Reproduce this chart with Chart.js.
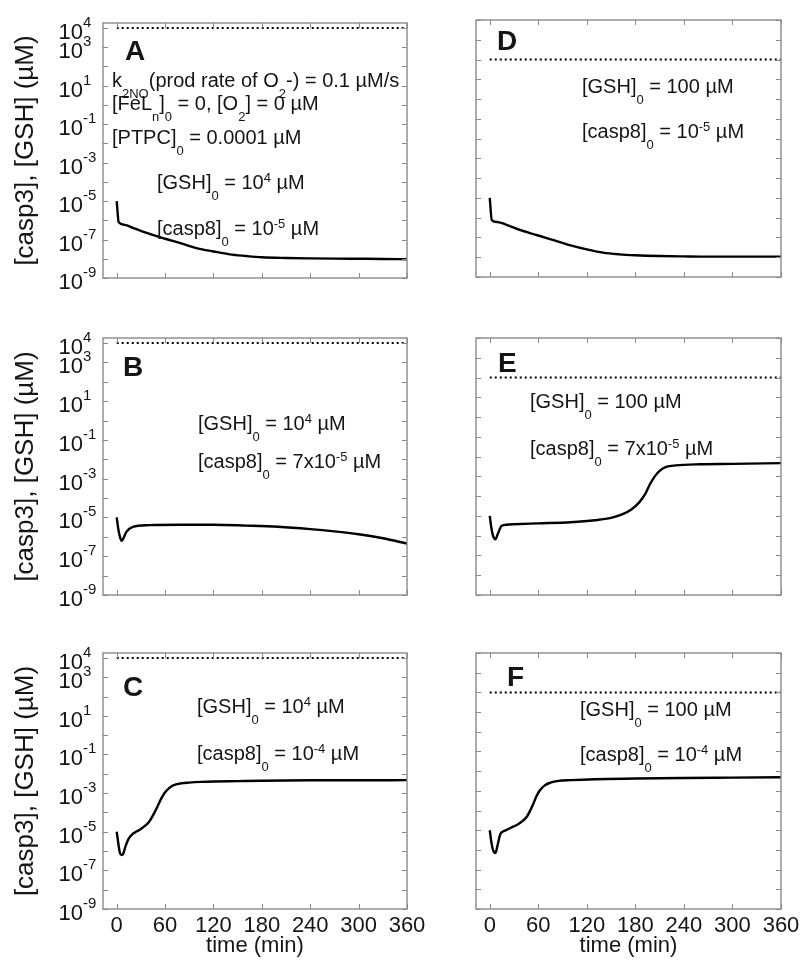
<!DOCTYPE html>
<html>
<head>
<meta charset="utf-8">
<script src="https://cdn.jsdelivr.net/npm/chart.js@4.4.1/dist/chart.umd.min.js"></script>
<style>
  body { margin: 0; background: #fff; }
  #wrap { position: relative; width: 800px; height: 961px; }
  #wrap canvas { position: absolute; }
</style>
</head>
<body>
<div id="wrap"></div>
<script>
// ---- data ----
const xTickValues = [0, 60, 120, 180, 240, 300, 360];
const yDecades = [-9, -8, -7, -6, -5, -4, -3, -2, -1, 0, 1, 2, 3, 4];
const yLabelExps = [4, 3, 1, -1, -3, -5, -7, -9];

const gshTime = [0, 360];
const gshLeft = [1e4, 1e4];   // [GSH]0 = 10^4 uM
const gshRight = [100, 100];  // [GSH]0 = 100 uM

const timeA = [0, 2.5, 10, 20, 40, 60, 80, 100, 120, 140, 160, 180, 210, 240, 270, 300, 330, 360];
const casp3A = [1.0e-5, 7.8e-7, 5.8e-7, 4.0e-7, 2.0e-7, 1.1e-7, 6.3e-8, 3.5e-8, 2.4e-8, 1.7e-8, 1.4e-8, 1.2e-8, 1.1e-8, 1.05e-8, 1.02e-8, 1.0e-8, 9.8e-9, 9.5e-9];

const timeD = [0, 2.5, 10, 20, 40, 60, 80, 100, 120, 140, 160, 180, 210, 240, 270, 300, 330, 360];
const casp3D = [1.0e-5, 7.6e-7, 6.0e-7, 4.5e-7, 2.2e-7, 1.26e-7, 7.1e-8, 4.0e-8, 2.5e-8, 1.7e-8, 1.4e-8, 1.26e-8, 1.15e-8, 1.1e-8, 1.07e-8, 1.07e-8, 1.07e-8, 1.07e-8];

const timeB = [0, 2, 4, 6, 8, 12, 20, 40, 80, 120, 160, 200, 240, 270, 300, 330, 360];
const casp3B = [1.0e-5, 2.5e-6, 1.0e-6, 6.3e-7, 7.9e-7, 1.8e-6, 3.3e-6, 4.0e-6, 4.2e-6, 4.2e-6, 3.8e-6, 3.3e-6, 2.5e-6, 1.9e-6, 1.35e-6, 8.5e-7, 4.5e-7];

const timeE = [0, 2, 4, 7, 10, 15, 30, 60, 100, 130, 150, 165, 175, 185, 192, 198, 204, 210, 218, 230, 260, 300, 360];
const casp3E = [1.0e-5, 2.5e-6, 1.0e-6, 6.6e-7, 1.26e-6, 3.2e-6, 3.8e-6, 4.2e-6, 4.8e-6, 6.0e-6, 7.9e-6, 1.26e-5, 2.1e-5, 5.0e-5, 1.26e-4, 4.0e-4, 1.0e-3, 1.9e-3, 3.0e-3, 3.6e-3, 4.1e-3, 4.3e-3, 4.7e-3];

const timeC = [0, 2, 4, 6, 8, 11, 15, 20, 25, 30, 35, 40, 45, 50, 55, 60, 65, 70, 80, 90, 105, 120, 150, 180, 240, 300, 360];
const casp3C = [1.0e-5, 2.5e-6, 7.9e-7, 6.3e-7, 7.1e-7, 1.8e-6, 4.5e-6, 7.9e-6, 1.05e-5, 1.4e-5, 2.0e-5, 3.2e-5, 7.1e-5, 1.8e-4, 5.0e-4, 1.1e-3, 1.8e-3, 2.5e-3, 3.2e-3, 3.5e-3, 3.8e-3, 4.0e-3, 4.2e-3, 4.4e-3, 4.6e-3, 4.6e-3, 4.7e-3];

const timeF = [0, 2, 4, 7, 10, 13, 17, 21, 27, 34, 40, 46, 50, 54, 58, 62, 68, 75, 85, 100, 130, 180, 240, 300, 360];
const casp3F = [1.0e-5, 2.5e-6, 1.0e-6, 6.9e-7, 2.0e-6, 6.3e-6, 8.9e-6, 1.05e-5, 1.4e-5, 1.9e-5, 2.8e-5, 5.0e-5, 1.0e-4, 2.3e-4, 5.6e-4, 1.07e-3, 1.9e-3, 2.6e-3, 3.2e-3, 3.5e-3, 3.9e-3, 4.2e-3, 4.5e-3, 4.7e-3, 4.9e-3];

// text parts: [string, kind]  kind 0 = normal, -1 = subscript, 1 = superscript
const gsh4 = [['[GSH]', 0], ['0', -1], [' = 10', 0], ['4', 1], [' \u00b5M', 0]];
const gsh100 = [['[GSH]', 0], ['0', -1], [' = 100 \u00b5M', 0]];
const casp8e5 = [['[casp8]', 0], ['0', -1], [' = 10', 0], ['-5', 1], [' \u00b5M', 0]];
const casp8e57 = [['[casp8]', 0], ['0', -1], [' = 7x10', 0], ['-5', 1], [' \u00b5M', 0]];
const casp8e4 = [['[casp8]', 0], ['0', -1], [' = 10', 0], ['-4', 1], [' \u00b5M', 0]];
const k2noLine = [['k', 0], ['2NO', -1], ['(prod rate of O', 0], ['2', -1], ['-) = 0.1 \u00b5M/s', 0]];
const felLine = [['[FeL', 0], ['n', -1], [']', 0], ['0', -1], [' = 0, [O', 0], ['2', -1], ['] = 0 \u00b5M', 0]];
const ptpcLine = [['[PTPC]', 0], ['0', -1], [' = 0.0001 \u00b5M', 0]];

const FONT = '"Liberation Sans", Arial, Helvetica, sans-serif';
const TXT = '#151515';

// layout of the 3x2 grid
const cols = [
  { left: 0, width: 438, yWidth: 103, padRight: 31, yMax: 1.8e4, showY: true },
  { left: 440, width: 360, yWidth: 36, padRight: 19, yMax: 1e4, showY: false }
];
const rows = [
  { top: 0, height: 300, areaTop: [23, 20], below: [22, 23], showX: false },
  { top: 300, height: 320, areaTop: [338, 338], below: [25, 25], showX: false },
  { top: 620, height: 341, areaTop: [653, 653], below: [52, 52], showX: true }
];

const panels = [
  { letter: 'A', row: 0, col: 0, time: timeA, casp3: casp3A, gsh: gshLeft, letterPos: [22, 27],
    notes: [[k2noLine, 9, 59], [felLine, 9, 82], [ptpcLine, 9, 116], [gsh4, 54, 161], [casp8e5, 54, 207]] },
  { letter: 'D', row: 0, col: 1, time: timeD, casp3: casp3D, gsh: gshRight, letterPos: [21, 20],
    notes: [[gsh100, 106, 68], [casp8e5, 106, 113]] },
  { letter: 'B', row: 1, col: 0, time: timeB, casp3: casp3B, gsh: gshLeft, letterPos: [20, 28],
    notes: [[gsh4, 95, 87], [casp8e57, 95, 125]] },
  { letter: 'E', row: 1, col: 1, time: timeE, casp3: casp3E, gsh: gshRight, letterPos: [22, 24],
    notes: [[gsh100, 54, 65], [casp8e57, 54, 112]] },
  { letter: 'C', row: 2, col: 0, time: timeC, casp3: casp3C, gsh: gshLeft, letterPos: [20, 33],
    notes: [[gsh4, 94, 55], [casp8e4, 94, 102]] },
  { letter: 'F', row: 2, col: 1, time: timeF, casp3: casp3F, gsh: gshRight, letterPos: [31, 23],
    notes: [[gsh100, 104, 58], [casp8e4, 104, 103]] }
];

function drawRich(ctx, x, cy, parts, size) {
  let cx = x;
  const base = cy + size * 0.26;
  parts.forEach(([txt, kind]) => {
    const fs = kind === 0 ? size : Math.round(size * 0.66);
    ctx.font = fs + 'px ' + FONT;
    const dy = kind === 0 ? 0 : (kind < 0 ? size * 0.55 : -size * 0.38);
    ctx.fillText(txt, cx, base + dy);
    cx += ctx.measureText(txt).width;
  });
}

// MATLAB-like box, inward ticks, 10^n labels and panel text
const matlabAxes = {
  id: 'matlabAxes',
  afterDatasetsDraw(chart, args, opts) {
    const { ctx, scales: { x, y } } = chart;
    const L = x.left, R = x.right, T = y.top, B = y.bottom;
    ctx.save();
    ctx.strokeStyle = '#8a8a8a';
    ctx.lineWidth = 1.4;
    ctx.strokeRect(L, T, R - L, B - T);
    ctx.beginPath();
    yDecades.forEach(e => {
      const py = Math.round(y.getPixelForValue(Math.pow(10, e))) + 0.5;
      ctx.moveTo(L, py); ctx.lineTo(L + 5, py);
      ctx.moveTo(R, py); ctx.lineTo(R - 5, py);
    });
    xTickValues.forEach(v => {
      const px = Math.round(x.getPixelForValue(v)) + 0.5;
      ctx.moveTo(px, B); ctx.lineTo(px, B - 5);
      ctx.moveTo(px, T); ctx.lineTo(px, T + 5);
    });
    ctx.lineWidth = 1;
    ctx.stroke();

    ctx.fillStyle = TXT;
    ctx.textBaseline = 'alphabetic';
    if (opts.yLabels) {
      yLabelExps.forEach(e => {
        const py = y.getPixelForValue(Math.pow(10, e));
        ctx.font = '22px ' + FONT;
        ctx.textAlign = 'right';
        ctx.fillText('10', L - 20, py + 11);
        ctx.font = '15px ' + FONT;
        ctx.textAlign = 'left';
        ctx.fillText(String(e), L - 20, py - 1);
      });
    }
    ctx.textAlign = 'left';
    ctx.font = 'bold 28px ' + FONT;
    ctx.fillText(opts.letter, L + opts.letterPos[0], T + opts.letterPos[1] + 10);
    opts.notes.forEach(([parts, dx, cy]) => drawRich(ctx, L + dx, T + cy, parts, 20));
    ctx.restore();
  }
};

const wrap = document.getElementById('wrap');
panels.forEach(p => {
  const c = cols[p.col], r = rows[p.row];
  const canvas = document.createElement('canvas');
  canvas.width = c.width; canvas.height = r.height;
  canvas.style.left = c.left + 'px'; canvas.style.top = r.top + 'px';
  canvas.style.width = c.width + 'px'; canvas.style.height = r.height + 'px';
  wrap.appendChild(canvas);

  const padTop = r.areaTop[p.col] - r.top;
  const xHeight = r.below[p.col];

  new Chart(canvas.getContext('2d'), {
    type: 'line',
    data: {
      datasets: [
        {
          label: '[casp3]',
          data: p.time.map((t, i) => ({ x: t, y: p.casp3[i] })),
          borderColor: '#000',
          borderWidth: 2.4,
          pointRadius: 0,
          cubicInterpolationMode: 'monotone',
          fill: false
        },
        {
          label: '[GSH]',
          data: gshTime.map((t, i) => ({ x: t, y: p.gsh[i] })),
          borderColor: '#000',
          borderWidth: 2,
          borderDash: [2, 3],
          pointRadius: 0,
          fill: false
        }
      ]
    },
    options: {
      responsive: false,
      animation: false,
      events: [],
      layout: { padding: { left: 0, right: c.padRight, top: padTop, bottom: 0 } },
      plugins: {
        legend: { display: false },
        tooltip: { enabled: false },
        matlabAxes: { yLabels: c.showY, letter: p.letter, letterPos: p.letterPos, notes: p.notes }
      },
      scales: {
        x: {
          type: 'linear',
          min: -17,
          max: 360,
          afterBuildTicks: s => { s.ticks = xTickValues.map(v => ({ value: v })); },
          afterFit: s => {
            s.height = xHeight;
            // let the last tick label overhang instead of shrinking the plot
            s.paddingLeft = 0;
            s.paddingRight = 0;
          },
          grid: { display: false, drawTicks: false },
          border: { display: false },
          ticks: {
            display: r.showX,
            autoSkip: false,
            maxRotation: 0,
            padding: 4,
            color: TXT,
            font: { family: FONT, size: 22 }
          },
          title: {
            display: r.showX,
            text: 'time (min)',
            color: TXT,
            font: { family: FONT, size: 22 },
            padding: { top: 0, bottom: 2 }
          }
        },
        y: {
          type: 'logarithmic',
          min: 1e-9,
          max: c.yMax,
          afterBuildTicks: s => { s.ticks = yDecades.map(e => ({ value: Math.pow(10, e) })); },
          afterFit: s => { s.width = c.yWidth; },
          grid: { display: false, drawTicks: false },
          border: { display: false },
          ticks: { callback: () => '' },
          title: {
            display: c.showY,
            text: '[casp3], [GSH] (\u00b5M)',
            color: TXT,
            font: { family: FONT, size: 26 },
            padding: { top: 10, bottom: 0 }
          }
        }
      }
    },
    plugins: [matlabAxes]
  });
});
</script>
</body>
</html>
